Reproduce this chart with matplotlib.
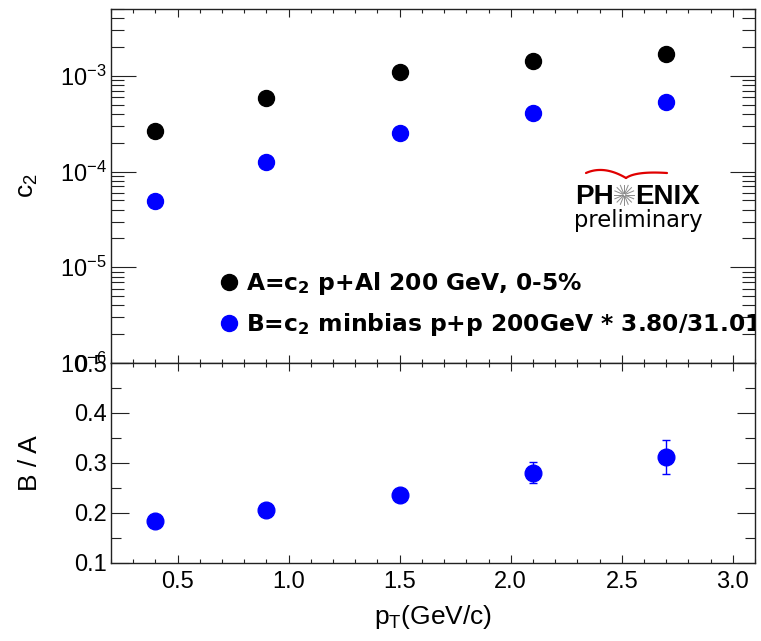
import matplotlib
matplotlib.use("Agg")
import matplotlib.pyplot as plt
import numpy as np
from matplotlib.ticker import MultipleLocator, FormatStrFormatter, LogLocator

plt.rcParams["font.family"] = ["Liberation Sans", "DejaVu Sans"]
plt.rcParams["mathtext.fontset"] = "custom"
plt.rcParams["mathtext.rm"] = "Liberation Sans"
plt.rcParams["mathtext.it"] = "Liberation Sans:italic"
plt.rcParams["mathtext.bf"] = "DejaVu Sans:bold"

# c2 vs pT for p+Al central and scaled minbias p+p, plus their ratio
pt = [0.4, 0.9, 1.5, 2.1, 2.7]
c2_pAl = [2.66e-4, 5.9e-4, 1.1e-3, 1.44e-3, 1.7e-3]
c2_pp = [4.97e-5, 1.25e-4, 2.55e-4, 4.05e-4, 5.3e-4]
ratio = [0.183, 0.206, 0.235, 0.280, 0.312]
ratio_err = [0.012, 0.010, 0.012, 0.021, 0.034]

label_A = r"A=c$_\mathbf{2}$ p+Al 200 GeV, 0-5%"
label_B = r"B=c$_\mathbf{2}$ minbias p+p 200GeV * 3.80/31.01"

W, H = 761, 641
fig = plt.figure(figsize=(W / 100, H / 100), dpi=100)
left, right = 111, 755
ax = fig.add_axes([left / W, (H - 363) / H, (right - left) / W, (363 - 9) / H])
axr = fig.add_axes([left / W, (H - 562.7) / H, (right - left) / W, (562.7 - 363) / H])


def root_style(a, ymaj, ymin):
    a.tick_params(which="both", direction="in", top=True, right=True, width=0.8, colors="#222222")
    a.tick_params(axis="x", which="major", length=5.5)
    a.tick_params(axis="x", which="minor", length=3)
    a.tick_params(axis="y", which="major", length=ymaj, pad=3)
    a.tick_params(axis="y", which="minor", length=ymin)
    a.tick_params(labelsize=17, labelcolor="black")
    for s in a.spines.values():
        s.set_linewidth(1.0)
        s.set_color("#222222")


# upper panel: c2 on log scale
ax.plot(pt, c2_pAl, "o", color="black", ms=11.5, label=label_A)
ax.plot(pt, c2_pp, "o", color="#0000ff", ms=11.5, label=label_B)
ax.set_yscale("log")
ax.set_ylim(1e-6, 5e-3)
ax.set_xlim(0.2, 3.1)
ax.xaxis.set_major_locator(MultipleLocator(0.5))
ax.xaxis.set_minor_locator(MultipleLocator(0.1))
ax.yaxis.set_minor_locator(LogLocator(subs=range(2, 10)))
ax.tick_params(axis="x", labelbottom=False)
root_style(ax, 18, 9.5)

leg = ax.legend(loc="center left", bbox_to_anchor=(0.158, 0.166), frameon=False,
                prop={"family": "DejaVu Sans", "weight": "bold", "size": 16.8},
                handlelength=0.6, handletextpad=0.42, labelspacing=0.58, borderaxespad=0)
for t in leg.get_texts():
    t.set_clip_box(ax.bbox)
    t.set_clip_on(True)

# PHENIX preliminary logo
ax.text(0.781, 0.448, "PH", transform=ax.transAxes, ha="right", va="baseline",
        fontsize=20, fontweight="bold")
ax.text(0.814, 0.448, "ENIX", transform=ax.transAxes, ha="left", va="baseline",
        fontsize=20, fontweight="bold")
sx, sy, rx, ry = 0.797, 0.475, 0.0158, 0.029
for ang in np.arange(16) * np.pi / 8:
    ax.plot([sx + 0.15 * rx * np.cos(ang), sx + rx * np.cos(ang)],
            [sy + 0.15 * ry * np.sin(ang), sy + ry * np.sin(ang)],
            color="#8a8a8a", lw=0.7, transform=ax.transAxes)


def to_axes(px, py):
    return (np.asarray(px) - left) / (right - left), (363 - np.asarray(py)) / 354


# red swoosh above the logo: two quadratic curves meeting in a V
t = np.linspace(0, 1, 30)[:, None]
for p0, p1, p2 in [((586, 173), (604, 165), (626, 178)), ((626, 178), (636, 171), (667, 173))]:
    p0, p1, p2 = map(np.array, (p0, p1, p2))
    curve = (1 - t) ** 2 * p0 + 2 * (1 - t) * t * p1 + t ** 2 * p2
    cx, cy = to_axes(curve[:, 0], curve[:, 1])
    ax.plot(cx, cy, color="#e00000", lw=1.6, transform=ax.transAxes, solid_capstyle="round")
ax.text(0.8186, 0.385, "preliminary", transform=ax.transAxes, ha="center",
        va="baseline", fontsize=16.3, family="DejaVu Sans")

fig.text(28 / W, 1 - 186 / H, r"c$_2$", rotation=90, ha="center", va="center", fontsize=19)

# lower panel: ratio B/A
axr.errorbar(pt, ratio, yerr=ratio_err, fmt="o", color="#0000ff", ms=12,
             elinewidth=1.0, capsize=2.8, capthick=1.0)
axr.set_xlim(0.2, 3.1)
axr.set_ylim(0.1, 0.5)
axr.xaxis.set_major_locator(MultipleLocator(0.5))
axr.xaxis.set_minor_locator(MultipleLocator(0.1))
axr.yaxis.set_major_locator(MultipleLocator(0.1))
axr.yaxis.set_minor_locator(MultipleLocator(0.05))
axr.xaxis.set_major_formatter(FormatStrFormatter("%.1f"))
axr.yaxis.set_major_formatter(FormatStrFormatter("%.1f"))
root_style(axr, 13, 7.5)
axr.tick_params(axis="x", pad=6)
axr.set_xlabel(r"p$_\mathrm{T}$(GeV/c)", fontsize=19)
axr.xaxis.set_label_coords(0.5, -0.2)
fig.text(30 / W, 1 - 463 / H, "B / A", rotation=90, ha="center", va="center", fontsize=19)

fig.savefig("out.png", dpi=100)
